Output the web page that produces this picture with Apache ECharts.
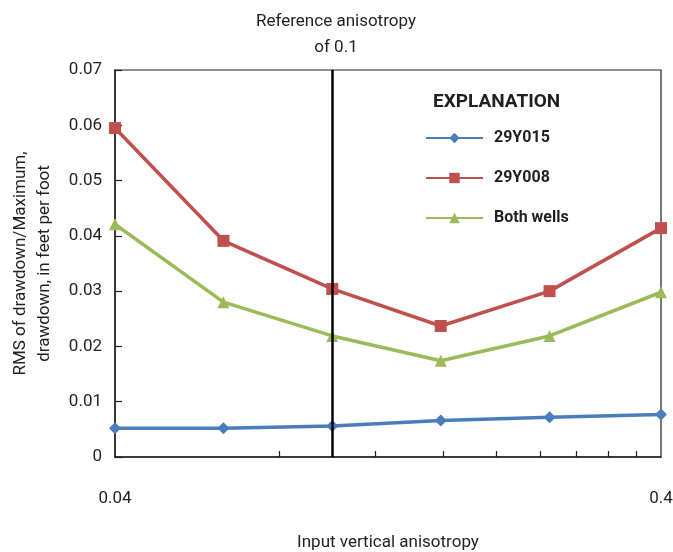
<!DOCTYPE html>
<html>
<head>
<meta charset="utf-8">
<title>RMS of drawdown vs. input vertical anisotropy</title>
<script src="https://cdn.jsdelivr.net/npm/echarts@6/dist/echarts.min.js"></script>
<style>
  html, body { margin: 0; padding: 0; background: #ffffff; }
  #chart { width: 673px; height: 552px; }
</style>
</head>
<body>
<div id="chart"></div>
<script>
// Input vertical anisotropy values (log-spaced)
const anisotropy = [0.04, 0.0632, 0.1, 0.158, 0.25, 0.4];

// RMS of drawdown / maximum drawdown, in feet per foot
const well29Y015 = [0.0052, 0.0052, 0.0056, 0.0066, 0.0072, 0.0077];
const well29Y008 = [0.0595, 0.0391, 0.0304, 0.0237, 0.0300, 0.0414];
const bothWells  = [0.0421, 0.0280, 0.0219, 0.0174, 0.0219, 0.0298];

const seriesNames = ['29Y015', '29Y008', 'Both wells'];
const xLabelValues = [0.04, 0.4];
const xTickValues = [0.08, 0.12, 0.16, 0.2, 0.24, 0.28, 0.32, 0.36];
const referenceAnisotropy = 0.1;

const FONT = "'Roboto', 'Liberation Sans', sans-serif";
const INK = '#231f20';

function pairs(ys) {
  return anisotropy.map((x, i) => [x, ys[i]]);
}

const chart = echarts.init(document.getElementById('chart'), null, { renderer: 'canvas' });

chart.setOption({
  animation: false,
  backgroundColor: '#ffffff',
  textStyle: { fontFamily: FONT, color: INK },
  grid: {
    left: 115, right: 12, top: 70, bottom: 95,
    outerBoundsMode: 'none',
    show: true, borderColor: INK, borderWidth: 1.2, backgroundColor: 'transparent'
  },
  graphic: [
    {
      type: 'text', x: 433, y: 93,
      style: { text: 'EXPLANATION', font: "bold 19px " + FONT, fill: INK }
    },
    {
      type: 'text', x: 336, y: 9,
      style: {
        text: 'Reference anisotropy\nof 0.1', font: "17px " + FONT,
        fill: INK, align: 'center', verticalAlign: 'top', lineHeight: 26
      }
    }
  ],
  legend: {
    orient: 'vertical',
    left: 420, top: 125,
    itemWidth: 57, itemHeight: 13, itemGap: 24,
    textStyle: { fontFamily: FONT, fontWeight: 'bold', fontSize: 16, color: INK, padding: [0, 0, 0, 6] },
    data: seriesNames
  },
  xAxis: {
    type: 'log', logBase: 10,
    min: 0.04, max: 0.4,
    name: 'Input vertical anisotropy',
    nameLocation: 'middle', nameGap: 77,
    nameTextStyle: { fontFamily: FONT, fontSize: 17, color: INK },
    axisLine: { lineStyle: { color: INK, width: 1.5 } },
    axisTick: { show: true, inside: true, length: 6, lineStyle: { color: INK, width: 1.2 }, customValues: xTickValues },
    axisLabel: { fontFamily: FONT, fontSize: 17, color: INK, margin: 33, customValues: xLabelValues,
      formatter: v => String(+(+v).toPrecision(3)) },
    splitLine: { show: false },
    minorTick: { show: false }
  },
  yAxis: {
    type: 'value', min: 0, max: 0.07, interval: 0.01,
    name: 'RMS of drawdown/Maximum,\ndrawdown, in feet per foot',
    nameLocation: 'middle', nameGap: 58, nameRotate: 90,
    nameTextStyle: { fontFamily: FONT, fontSize: 17, color: INK, lineHeight: 24 },
    axisLine: { lineStyle: { color: INK, width: 1.5 } },
    axisTick: { show: true, inside: true, length: 7, lineStyle: { color: INK, width: 1.2 } },
    axisLabel: { fontFamily: FONT, fontSize: 17, color: INK, margin: 13,
      formatter: v => (v === 0 ? '0' : (+v).toFixed(2)) },
    splitLine: { show: false }
  },
  series: [
    {
      name: seriesNames[0], type: 'line', data: pairs(well29Y015),
      symbol: 'diamond', symbolSize: 12,
      lineStyle: { color: '#4a7ebb', width: 3.5 },
      itemStyle: { color: '#4a7ebb' },
      z: 3,
      markLine: {
        silent: true, symbol: 'none', label: { show: false },
        lineStyle: { color: '#000000', width: 2.5, type: 'solid' },
        data: [{ xAxis: referenceAnisotropy }]
      }
    },
    {
      name: seriesNames[1], type: 'line', data: pairs(well29Y008),
      symbol: 'rect', symbolSize: 12,
      lineStyle: { color: '#c0504d', width: 3.5 },
      itemStyle: { color: '#c0504d' },
      z: 4
    },
    {
      name: seriesNames[2], type: 'line', data: pairs(bothWells),
      symbol: 'triangle', symbolSize: 12,
      lineStyle: { color: '#9bbb59', width: 3.5 },
      itemStyle: { color: '#9bbb59' },
      z: 4
    }
  ]
});
</script>
</body>
</html>
